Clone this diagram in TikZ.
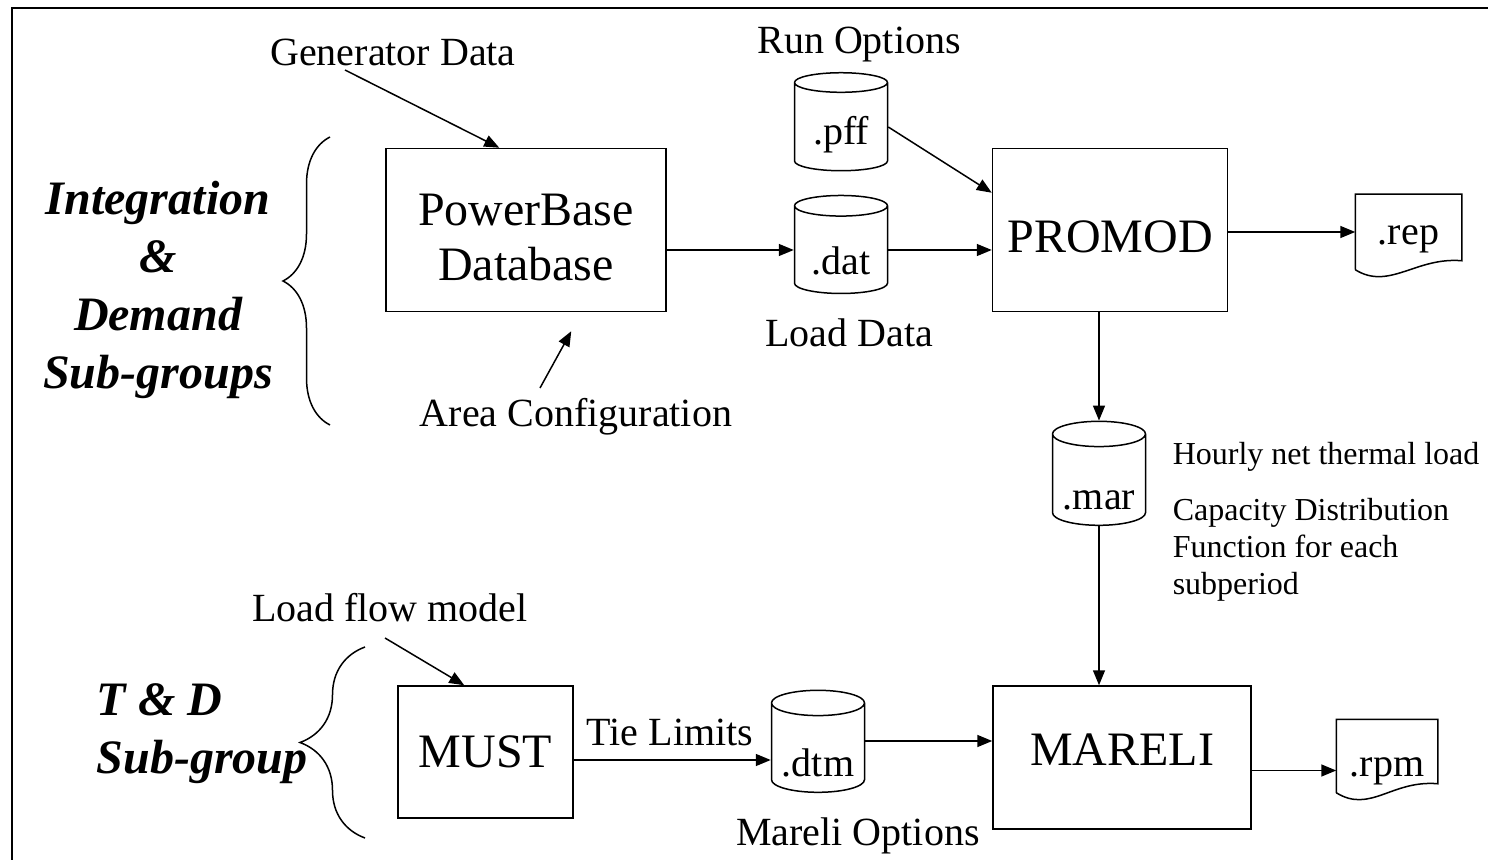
\documentclass[tikz,border=0pt]{standalone}
\usepackage{fontspec}
\setmainfont{Liberation Serif}
\usetikzlibrary{shapes.geometric,arrows.meta,calc,decorations.pathreplacing}
\newcommand{\sunk}[2]{\raisebox{-#1}[\height][\depth]{#2}}

\begin{document}
\begin{tikzpicture}[%
  x=0.5pt, y=-0.5pt,
  line width=0.75pt,
  prog/.style={draw, rectangle, align=center, inner sep=0pt,
    font=\fontsize{24}{27.5}\selectfont},
  store/.style={draw, cylinder, shape border rotate=90, aspect=0.35,
    minimum width=46.5pt, minimum height=49pt, inner sep=0pt,
    font=\fontsize{20}{24}\selectfont},
  doc/.style={rectangle, minimum width=52.5pt, minimum height=37pt,
    inner sep=0pt, font=\fontsize{20}{24}\selectfont},
  lbl/.style={inner sep=0pt, font=\fontsize{20}{24}\selectfont},
  note/.style={align=left, anchor=west, inner sep=0pt,
    font=\fontsize{16}{18.5}\selectfont},
  grp/.style={inner sep=0pt, font=\fontsize{24}{29}\selectfont\bfseries\itshape},
  arr/.style={-{Triangle[length=7.5pt,width=6pt]}},
  grpbrace/.style={decorate, decoration={brace, amplitude=#1}}]
\useasboundingbox (0,0) rectangle (1488,860);
\draw[line width=1pt] (12,860) -- (12,8) -- (1488,8);

% programs
\node[prog, minimum width=140pt, minimum height=81.5pt] (pbase) at (526,230)
  {\sunk{6pt}{\begin{tabular}{@{}c@{}}PowerBase\\Database\end{tabular}}};
\node[prog, minimum width=117.5pt, minimum height=81.5pt] (promod) at (1110,230) {\sunk{3.5pt}{PROMOD}};
\node[prog, minimum width=87.5pt, minimum height=66pt] (must) at (485.5,752) {MUST};
\node[prog, minimum width=129pt, minimum height=71.5pt] (mareli) at (1122,757.5) {\sunk{-4pt}{MARELI}};

% files
\node[store] (pff) at (841,127) {\sunk{4pt}{.pff}};
\node[store] (dat) at (841,250) {\sunk{5.5pt}{.dat}};
\node[store, minimum height=52pt] (mar) at (1099,480) {\sunk{10pt}{.mar}};
\node[store, minimum height=51pt] (dtm) at (818,748) {\sunk{7.5pt}{.dtm}};
\node[doc] (rep) at (1408.5,232) {\sunk{3.5pt}{.rep}};
\node[doc, minimum width=50pt, minimum height=36pt] (rpm) at (1387,756) {\sunk{7.5pt}{.rpm}};
\foreach \d in {rep,rpm}
  \draw (\d.south west) -- (\d.north west) -- (\d.north east) -- ($(\d.south east)+(0,-9)$)
    .. controls ($(\d.south east)+(-46,-13)$) and ($(\d.south west)+(34,21)$) .. (\d.south west);

% labels
\node[lbl] (gendata) at (393,52) {Generator Data};
\node[lbl] (runopt) at (859,45) {Run Options};
\node[lbl] (loaddata) at (849,333) {Load Data};
\node[lbl] (areacfg) at (576,417) {Area Configuration};
\node[lbl] (loadflow) at (390,608) {Load flow model};
\node[lbl] (tielim) at (670,732) {Tie Limits};
\node[lbl] (mareliopt) at (858,836) {Mareli Options};
\node[note] (hourly) at (1172,457) {Hourly net thermal load};
\node[note] (capdist) at (1172,550) {Capacity Distribution\\Function for each\\subperiod};

% groups
\node[grp, align=center] (intgrp) at (158,290) {Integration\\\&\\Demand\\Sub-groups};
\node[grp, align=left, anchor=west] (tdgrp) at (96,734) {T \& D\\Sub-group};
\draw[grpbrace=23.5pt] (330,425) -- (330,137);
\draw[grpbrace=32.5pt] (365,838) -- (365,647);

% flows
\coordinate (gd) at (345,70);
\coordinate (ac) at (540,388);
\coordinate (lf) at (385,638);
\draw[arr] (gd) -- ($(pbase.north west)+(114,0)$);
\draw[arr] (ac) -- ($(pbase.south west)+(186,19)$);
\draw[arr] (lf) -- ($(must.north west)+(67,0)$);
\draw[arr] (pff.east) -- ($(promod.north west)+(0,45)$);
\draw[arr] (pbase.east |- dat.west) -- (dat.west);
\draw[arr] (dat.east) -- (dat.east -| promod.west);
\draw[arr] (promod.east |- rep.west) -- (rep.west);
\draw[arr] (mar.north |- promod.south) -- (mar.north);
\draw[arr] (mar.south) -- (mar.south |- mareli.north);
\draw[arr] ([yshift=-4pt]must.east) -- ([yshift=-4pt]must.east -| dtm.west);
\draw[arr] ([yshift=3.5pt]dtm.east) -- ([yshift=3.5pt]dtm.east -| mareli.west);
\draw[arr] ([yshift=-6.5pt]mareli.east) -- ([yshift=-6.5pt]mareli.east -| rpm.west);
\end{tikzpicture}
\end{document}
